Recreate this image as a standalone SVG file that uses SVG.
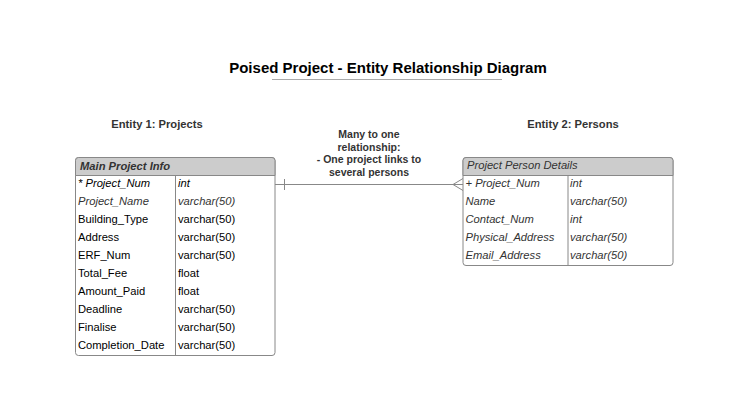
<svg xmlns="http://www.w3.org/2000/svg" width="737" height="412" viewBox="0 0 737 412">
<style>
text{font-family:"Liberation Sans",Arial,sans-serif;fill:#000}
.title{font-size:15px;font-weight:bold}
.ent{font-size:11.2px;font-weight:bold;fill:#333}
.rel{font-size:10.5px;font-weight:bold;fill:#333}
.hdr{font-size:11.2px}
.cell{font-size:11.2px}
.it{font-style:italic}
.gray{fill:#333}
.box{fill:#fff;stroke:#888;stroke-width:1}
.head{fill:#cccccc;stroke:#888;stroke-width:1}
.div{stroke:#888;stroke-width:1;fill:none}
.conn{stroke:#888;stroke-width:1;fill:none}
</style>
<rect width="737" height="412" fill="#fff"/>
<g id="title">
<text class="title" x="388" y="72.5" text-anchor="middle">Poised Project - Entity Relationship Diagram</text>
<line x1="272" y1="79.5" x2="502" y2="79.5" stroke="#aaa" stroke-width="1"/>
</g>
<g id="label-entity1"><text class="ent" x="157" y="128" text-anchor="middle">Entity 1: Projects</text></g>
<g id="label-entity2"><text class="ent" x="573" y="128" text-anchor="middle">Entity 2: Persons</text></g>
<g id="label-relationship">
<text class="rel" x="369" y="138" text-anchor="middle">Many to one</text>
<text class="rel" x="369" y="150.5" text-anchor="middle">relationship:</text>
<text class="rel" x="369" y="163" text-anchor="middle">- One project links to</text>
<text class="rel" x="369" y="175.5" text-anchor="middle">several persons</text>
</g>
<g id="entity-projects">
<rect class="box" x="75.5" y="157.5" width="199.5" height="198" rx="3"/>
<path class="head" d="M75.5 175.5 V160.5 a3 3 0 0 1 3 -3 H272 a3 3 0 0 1 3 3 V175.5 Z"/>
<line class="div" x1="175.5" y1="175.5" x2="175.5" y2="355.5"/>
<text class="hdr it gray" x="80" y="169.5" font-weight="bold">Main Project Info</text>
<text class="cell it" x="78" y="186.5">* Project_Num</text><text class="cell it" x="178" y="186.5">int</text>
<text class="cell it gray" x="78" y="204.5">Project_Name</text><text class="cell it gray" x="178" y="204.5">varchar(50)</text>
<text class="cell" x="78" y="222.5">Building_Type</text><text class="cell" x="178" y="222.5">varchar(50)</text>
<text class="cell" x="78" y="240.5">Address</text><text class="cell" x="178" y="240.5">varchar(50)</text>
<text class="cell" x="78" y="258.5">ERF_Num</text><text class="cell" x="178" y="258.5">varchar(50)</text>
<text class="cell" x="78" y="276.5">Total_Fee</text><text class="cell" x="178" y="276.5">float</text>
<text class="cell" x="78" y="294.5">Amount_Paid</text><text class="cell" x="178" y="294.5">float</text>
<text class="cell" x="78" y="312.5">Deadline</text><text class="cell" x="178" y="312.5">varchar(50)</text>
<text class="cell" x="78" y="330.5">Finalise</text><text class="cell" x="178" y="330.5">varchar(50)</text>
<text class="cell" x="78" y="348.5">Completion_Date</text><text class="cell" x="178" y="348.5">varchar(50)</text>
</g>
<g id="entity-persons">
<rect class="box" x="463" y="157.5" width="210" height="108" rx="3"/>
<path class="head" d="M463 175.5 V160.5 a3 3 0 0 1 3 -3 H670 a3 3 0 0 1 3 3 V175.5 Z"/>
<line class="div" x1="568" y1="175.5" x2="568" y2="265.5"/>
<text class="hdr it gray" x="467" y="169">Project Person Details</text>
<text class="cell it gray" x="465.5" y="186.5">+ Project_Num</text><text class="cell it gray" x="570" y="186.5">int</text>
<text class="cell it gray" x="465.5" y="204.5">Name</text><text class="cell it gray" x="570" y="204.5">varchar(50)</text>
<text class="cell it gray" x="465.5" y="222.5">Contact_Num</text><text class="cell it gray" x="570" y="222.5">int</text>
<text class="cell it gray" x="465.5" y="240.5">Physical_Address</text><text class="cell it gray" x="570" y="240.5">varchar(50)</text>
<text class="cell it gray" x="465.5" y="258.5">Email_Address</text><text class="cell it gray" x="570" y="258.5">varchar(50)</text>
</g>
<g id="connectors">
<line class="conn" x1="275" y1="184.5" x2="463" y2="184.5"/>
<line class="conn" x1="284.5" y1="179" x2="284.5" y2="190"/>
<path class="conn" d="M463 178.5 L453 184.5 L463 190.5"/>
</g>
</svg>
